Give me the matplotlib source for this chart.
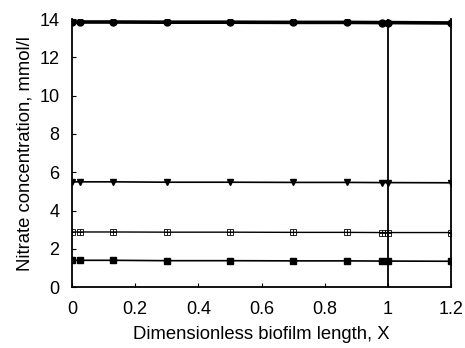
import matplotlib.pyplot as plt
from matplotlib.ticker import FuncFormatter

plt.rcParams['font.family'] = ['Liberation Sans', 'DejaVu Sans']

x = [0, 0.025, 0.13, 0.3, 0.5, 0.7, 0.87, 0.98, 1.0, 1.2]
top = [13.85, 13.85, 13.85, 13.84, 13.84, 13.83, 13.83, 13.82, 13.82, 13.8]
tri = [5.5, 5.5, 5.5, 5.48, 5.48, 5.47, 5.47, 5.46, 5.46, 5.45]
cross = [2.88, 2.88, 2.88, 2.87, 2.87, 2.86, 2.86, 2.85, 2.85, 2.85]
sq = [1.4, 1.4, 1.4, 1.38, 1.38, 1.37, 1.37, 1.36, 1.36, 1.35]

fig = plt.figure(figsize=(4.65, 3.48), dpi=100)
ax = fig.add_axes([0.155, 0.175, 0.815, 0.77])

ax.plot(x, top, color="k", linewidth=2.6, marker="o", markersize=5)
ax.plot(x, tri, color="k", linewidth=1.2, marker="v", markersize=5)
ax.plot(x, cross, color="k", linewidth=1.0, marker="s", markersize=5,
        markerfacecolor="none", markeredgewidth=0.6)
ax.plot(x, cross, color="k", linewidth=0, marker="+", markersize=5, markeredgewidth=0.6)
ax.plot(x, sq, color="k", linewidth=1.2, marker="s", markersize=5)
ax.axvline(1.0, color="k", linewidth=1.3)

ax.set_xlim(0, 1.2)
ax.set_ylim(0, 14)
ax.set_xticks([0, 0.2, 0.4, 0.6, 0.8, 1.0, 1.2])
ax.set_yticks(range(0, 15, 2))
ax.xaxis.set_major_formatter(FuncFormatter(lambda v, p: "%g" % round(v, 1)))
ax.tick_params(direction="in", length=3, width=0.8, labelsize=13)
ax.tick_params(axis="x", pad=10)
ax.tick_params(axis="y", pad=9)

ax.spines["top"].set_visible(False)
for s in ["left", "bottom", "right"]:
    ax.spines[s].set_linewidth(1.3)

ax.set_xlabel("Dimensionless biofilm length, X", fontsize=13.3, labelpad=6)
ax.set_ylabel("Nitrate concentration, mmol/l", fontsize=13.3, labelpad=4)

fig.savefig("out.png", dpi=100)
